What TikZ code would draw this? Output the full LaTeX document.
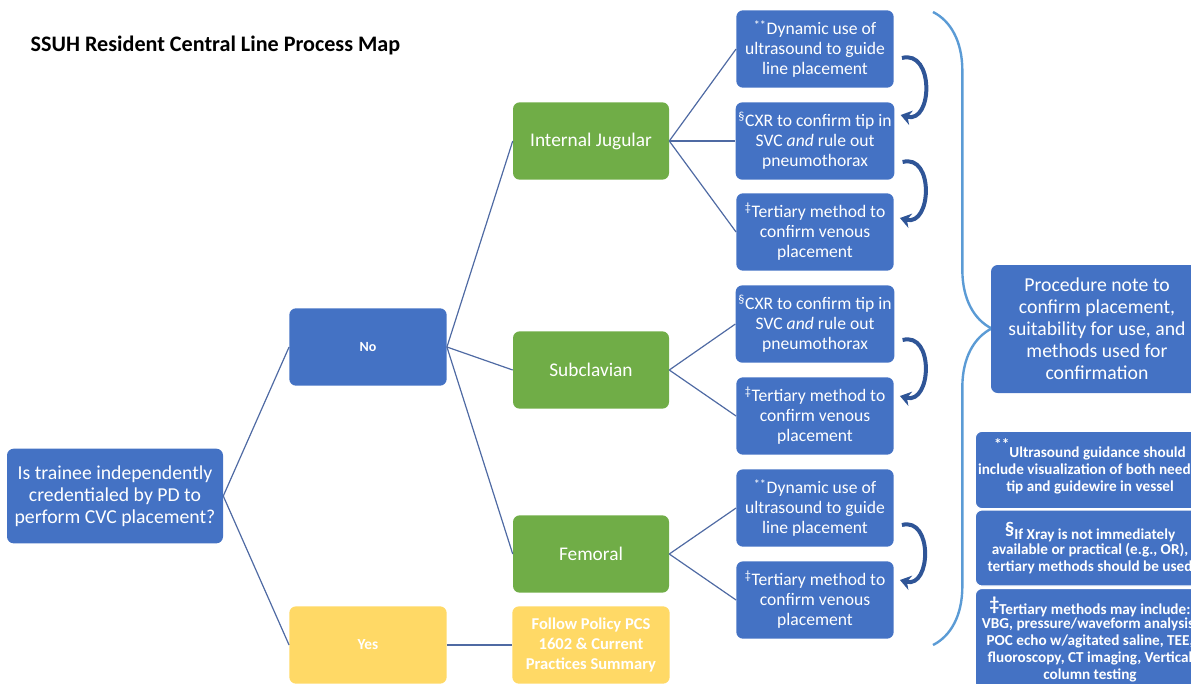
\documentclass[tikz,border=0pt]{standalone}
\usepackage{fontspec}
\setmainfont{Carlito}
\usetikzlibrary{arrows.meta,decorations.pathreplacing}
\definecolor{boxblue}{HTML}{4472C4}
\definecolor{boxgreen}{HTML}{70AD47}
\definecolor{boxyellow}{HTML}{FFD966}
\definecolor{linkblue}{HTML}{4F6AA3}
\definecolor{bracecol}{HTML}{5B9BD5}
\definecolor{turnblue}{HTML}{2F5597}

\begin{document}
\begin{tikzpicture}[x=0.75pt, y=-0.75pt,
		box/.style={rectangle, rounded corners=5pt, text=white, align=center, inner sep=2pt},
		bluebox/.style={box, fill=boxblue, minimum width=118pt, minimum height=58pt, font=\fontsize{13.2}{15}\selectfont},
		greenbox/.style={box, fill=boxgreen, minimum width=117pt, minimum height=58pt, font=\fontsize{14.5}{15}\selectfont},
		yellowbox/.style={box, fill=boxyellow, minimum width=118pt, minimum height=58pt, font=\bfseries\fontsize{12.4}{15}\selectfont},
		notebox/.style={box, fill=boxblue, draw=white, line width=0.8pt, minimum width=172pt, font=\bfseries\fontsize{11.4}{12.75}\selectfont},
		link/.style={draw=linkblue, line width=0.9pt},
		turn/.style={draw=turnblue, line width=3pt, -{Stealth[length=8pt, width=11pt]}, out=15, in=-15, looseness=1.5}
	]
		\useasboundingbox (0,0) rectangle (1191,683);
		\clip (0,0) rectangle (1191,683);
		\node[anchor=west, font=\bfseries\fontsize{16.6}{18}\selectfont] (title) at (26,45) {SSUH Resident Central Line Process Map};
		
		% decision and answers
		\node[bluebox, minimum width=162pt, minimum height=71pt, font=\fontsize{14.8}{16.5}\selectfont] (ask) at (115,496) {Is trainee independently\\credentialed by PD to\\perform CVC placement?};
		\node[bluebox, font=\bfseries\fontsize{10.5}{12}\selectfont] (no) at (368,347) {No};
		\node[yellowbox, font=\bfseries\fontsize{11.5}{12}\selectfont] (yes) at (368,645) {Yes};
		\node[yellowbox] (policy) at (591,645) {Follow Policy PCS\\1602 \& Current\\Practices Summary};
		
		% sites
		\node[greenbox] (jugular) at (591,141) {Internal Jugular};
		\node[greenbox] (subclavian) at (591,370) {Subclavian};
		\node[greenbox] (femoral) at (591,554) {Femoral};
		
		% steps
		\node[bluebox] (ij1) at (815,49) {\textsuperscript{**}Dynamic use of\\ultrasound to guide\\line placement};
		\node[bluebox] (ij2) at (815,141) {\textsuperscript{§}CXR to confirm tip in\\SVC \textit{and} rule out\\pneumothorax};
		\node[bluebox] (ij3) at (815,232) {\textsuperscript{‡}Tertiary method to\\confirm venous\\placement};
		\node[bluebox] (sc1) at (815,324) {\textsuperscript{§}CXR to confirm tip in\\SVC \textit{and} rule out\\pneumothorax};
		\node[bluebox] (sc2) at (815,416) {\textsuperscript{‡}Tertiary method to\\confirm venous\\placement};
		\node[bluebox] (fe1) at (815,508) {\textsuperscript{**}Dynamic use of\\ultrasound to guide\\line placement};
		\node[bluebox] (fe2) at (815,600) {\textsuperscript{‡}Tertiary method to\\confirm venous\\placement};
		
		\draw[link] (ask.east) -- (no.west);
		\draw[link] (ask.east) -- (yes.west);
		\draw[link] (no.east) -- (jugular.west);
		\draw[link] (no.east) -- (subclavian.west);
		\draw[link] (no.east) -- (femoral.west);
		\draw[link] (yes.east) -- (policy.west);
		\draw[link] (jugular.east) -- (ij1.west);
		\draw[link] (jugular.east) -- (ij2.west);
		\draw[link] (jugular.east) -- (ij3.west);
		\draw[link] (subclavian.east) -- (sc1.west);
		\draw[link] (subclavian.east) -- (sc2.west);
		\draw[link] (femoral.east) -- (fe1.west);
		\draw[link] (femoral.east) -- (fe2.west);
		
		% order of steps
		\draw[turn] ([shift={(8,9)}]ij1.east) to ([shift={(6,-26)}]ij2.east);
		\draw[turn] ([shift={(8,21)}]ij2.east) to ([shift={(6,-14)}]ij3.east);
		\draw[turn] ([shift={(8,16)}]sc1.east) to ([shift={(6,-20)}]sc2.east);
		\draw[turn] ([shift={(8,17)}]fe1.east) to ([shift={(6,-20)}]fe2.east);
		
		% summary
		\coordinate (btop) at (933,12);
		\coordinate (bbot) at (933,645);
		\draw[draw=bracecol, line width=1.8pt, decorate, decoration={brace, amplitude=44pt}] (btop) -- (bbot);
		\node[box, fill=boxblue, minimum width=159pt, minimum height=96pt, font=\fontsize{14.8}{16.5}\selectfont] (note) at (1097,329) {Procedure note to\\confirm placement,\\suitability for use, and\\methods used for\\confirmation};
		
		% footnotes
		\node[notebox, minimum height=58pt] (fn1) at (1090,470) {\raisebox{6pt}[0pt][0pt]{**}Ultrasound guidance should\\include visualization of both needle\\tip and guidewire in vessel};
		\node[notebox, minimum height=57pt] (fn2) at (1090,548) {{\Large§}\raisebox{-3pt}{If Xray is not immediately}\\available or practical (e.g., OR),\\tertiary methods should be used};
		\node[notebox, anchor=north, minimum height=76pt] (fn3) at (1090,588) {{\Large‡}\raisebox{-3pt}{Tertiary methods may include:}\\VBG, pressure/waveform analysis,\\POC echo w/agitated saline, TEE,\\fluoroscopy, CT imaging, Vertical\\column testing};
	\end{tikzpicture}
\end{document}
